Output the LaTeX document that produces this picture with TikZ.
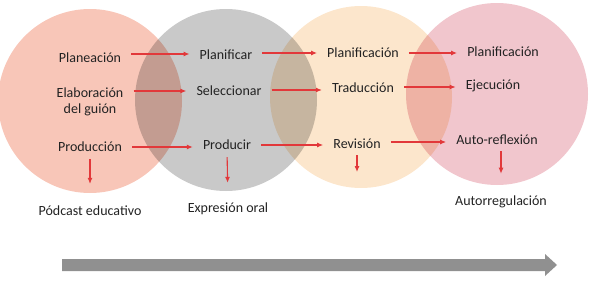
\documentclass[tikz,border=0pt]{standalone}
\usepackage{fontspec}
\setmainfont{Carlito}
\usetikzlibrary{arrows.meta}
\definecolor{cSalmon}{HTML}{F8C6B8}
\definecolor{cGray}{HTML}{C9C9C9}
\definecolor{cPeach}{HTML}{FCE6CC}
\definecolor{cPink}{HTML}{F1C6CD}
\definecolor{cRed}{HTML}{E2383A}
\definecolor{cText}{HTML}{222222}
\definecolor{cBar}{HTML}{909090}
\tikzset{
  lbl/.style={inner sep=0pt, text=cText, font=\fontsize{14}{16}\selectfont, align=center},
  arr/.style={draw=cRed, line width=1.1pt, -{Latex[length=6pt,width=5pt]}},
  harr/.style={arr, shorten <=10pt, shorten >=10pt},
  varr/.style={arr},
  bubble/.style={blend mode=multiply}
}
\begin{document}
\begin{tikzpicture}[x=1pt,y=-1pt]
\useasboundingbox (0,0) rectangle (589,281);
% circles
\fill[cSalmon, bubble] (90,101) circle (92);
\fill[cGray, bubble] (226,100) circle (91);
\fill[cPeach, bubble] (361,97) circle (91);
\fill[cPink, bubble] (497,94) circle (91);
% column 1
\node[lbl] (plan) at (90,58) {Planeación};
\node[lbl] (elab) at (90,102) {Elaboración\\del guión};
\node[lbl] (prodn) at (90,147) {Producción};
\node[lbl] (podc) at (90,211) {Pódcast educativo};
% column 2
\node[lbl] (planif) at (226,55) {Planificar};
\node[lbl] (selec) at (229,91) {Seleccionar};
\node[lbl] (prodr) at (227,145) {Producir};
\node[lbl] (expr) at (228,209) {Expresión oral};
% column 3
\node[lbl] (planc) at (363,53) {Planificación};
\node[lbl] (trad) at (363,88) {Traducción};
\node[lbl] (rev) at (357,144) {Revisión};
\coordinate (revend) at (357,172);
% column 4
\node[lbl] (plancb) at (503,52) {Planificación};
\node[lbl] (ejec) at (493,86) {Ejecución};
\node[lbl] (auto) at (497,140) {Auto-reflexión};
\node[lbl] (autor) at (501,202) {Autorregulación};
% horizontal arrows
\draw[harr] (plan.east |- 0,54) -- (planif.west |- 0,54);
\draw[harr] (elab.east |- 0,91) -- (selec.west |- 0,91);
\draw[harr] (prodn.east |- 0,147) -- (prodr.west |- 0,147);
\draw[harr] (planif.east |- 0,53) -- (planc.west |- 0,53);
\draw[harr] (selec.east |- 0,90) -- (trad.west |- 0,90);
\draw[harr] (prodr.east |- 0,145) -- (rev.west |- 0,145);
\draw[harr] (planc.east |- 0,53) -- (plancb.west |- 0,53);
\draw[harr] (trad.east |- 0,87) -- (ejec.west |- 0,87);
\draw[harr] (rev.east |- 0,142) -- (auto.west |- 0,142);
% vertical arrows
\draw[varr, shorten <=7pt, shorten >=22pt] (prodn.south) -- (podc.north);
\draw[varr, shorten <=7pt, shorten >=20pt] (prodr.south) -- (expr.north);
\draw[varr, shorten <=6pt] (rev.south) -- (revend);
\draw[varr, shorten <=6pt, shorten >=22pt] (auto.south -| autor.north) -- (autor.north);
% progress bar arrow
\fill[cBar] (62,259) -- (545,259) -- (545,254) -- (557,265) -- (545,276) -- (545,271) -- (62,271) -- cycle;
\end{tikzpicture}
\end{document}
